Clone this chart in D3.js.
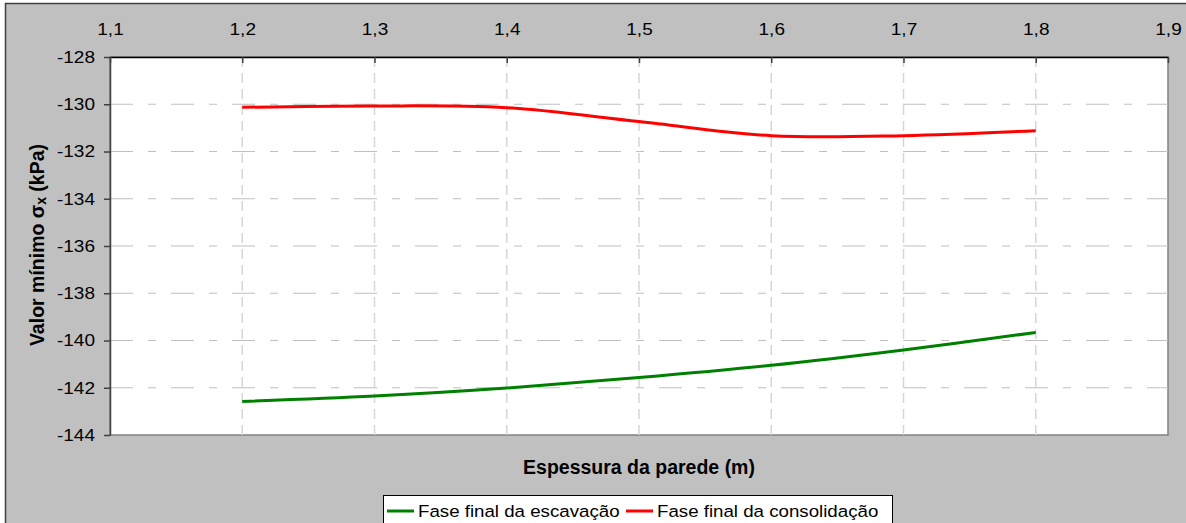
<!DOCTYPE html>
<html><head><meta charset="utf-8">
<script src="https://cdn.jsdelivr.net/npm/d3@7"></script>
<style>body{margin:0;background:#fff}svg{display:block;font-family:"Liberation Sans",Arial,sans-serif}</style>
</head><body><svg id="c" width="1186" height="523"></svg>
<script>
const thickness = [1.2, 1.3, 1.4, 1.5, 1.6, 1.7, 1.8];
const escavacao = [-142.58, -142.35, -142.01, -141.57, -141.05, -140.40, -139.66];
const consolidacao = [-130.13, -130.07, -130.15, -130.73, -131.33, -131.33, -131.12];
const xTicks = [1.1, 1.2, 1.3, 1.4, 1.5, 1.6, 1.7, 1.8, 1.9];
const yTicks = [-128, -130, -132, -134, -136, -138, -140, -142, -144];
const seriesNames = ["Fase final da escavação", "Fase final da consolidação"];
const seriesColors = ["#008000", "#ff0000"];

const svg = d3.select("#c");
const L = 110, R = 1168, T = 57, B = 435;
const x = d3.scaleLinear().domain([1.1, 1.9]).range([L, R]);
const y = d3.scaleLinear().domain([-144, -128]).range([B, T]);
const fmt = v => d3.format(".1f")(v).replace(".", ",");
const FONT = "Liberation Sans, Arial, sans-serif";

// outer frame
svg.append("rect").attr("x", 5.5).attr("y", 3.5).attr("width", 1200).attr("height", 540)
  .attr("fill", "#c0c0c0").attr("stroke", "#404040").attr("stroke-width", 1.5);
// plot area
svg.append("rect").attr("x", L).attr("y", T).attr("width", R - L).attr("height", B - T)
  .attr("fill", "#fff").attr("stroke", "#808080").attr("stroke-width", 1.5);

// grid
const g = svg.append("g");
g.selectAll("line.hg").data(yTicks.filter(v => v > -144 && v < -128)).join("line")
  .attr("x1", L).attr("x2", R).attr("y1", d => y(d)).attr("y2", d => y(d))
  .attr("stroke", "#c0c0c0").attr("stroke-width", 1.2).attr("stroke-dasharray", "23,15,8,15");
g.selectAll("line.vg").data(xTicks.filter(v => v > 1.1 && v < 1.9)).join("line")
  .attr("x1", d => x(d)).attr("x2", d => x(d)).attr("y1", T).attr("y2", B)
  .attr("stroke", "#d6d6d6").attr("stroke-width", 1.5).attr("stroke-dasharray", "10,6");

// axes
const SX = 1.12;
const xAxis = d3.axisTop(x).tickValues(xTicks).tickFormat(fmt).tickSizeInner(-6).tickSizeOuter(0).tickPadding(22);
const gx = svg.append("g").attr("transform", `translate(0,${T})`).call(xAxis);
gx.select(".domain").attr("stroke", "#000").attr("stroke-width", 1.5);
gx.selectAll(".tick line").attr("stroke", "#404040").attr("stroke-width", 1.5);
gx.selectAll("text").attr("font-size", 17).attr("fill", "#000").attr("font-family", FONT)
  .attr("transform", `scale(${SX},1)`);

const yAxis = d3.axisLeft(y).tickValues(yTicks).tickFormat(d => d).tickSizeInner(6).tickSizeOuter(0).tickPadding(9);
const gy = svg.append("g").attr("transform", `translate(${L},0)`).call(yAxis);
gy.select(".domain").attr("stroke", "#404040").attr("stroke-width", 1.5);
gy.selectAll(".tick line").attr("stroke", "#404040").attr("stroke-width", 1.5);
gy.selectAll("text").attr("font-size", 17).attr("fill", "#000").attr("font-family", FONT)
  .attr("transform", `translate(-15,0) scale(${SX},1) translate(15,0)`);

// lines
const line = d3.line().x((d, i) => x(thickness[i])).y(d => y(d)).curve(d3.curveCardinal.tension(0));
[escavacao, consolidacao].forEach((s, k) => {
  svg.append("path").datum(s).attr("d", line).attr("fill", "none")
    .attr("stroke", seriesColors[k]).attr("stroke-width", 3);
});

// axis titles
svg.append("text").attr("x", (L + R) / 2).attr("y", 474).attr("text-anchor", "middle")
  .attr("font-size", 19.5).attr("font-weight", "bold").text("Espessura da parede (m)");
const yt = svg.append("text").attr("transform", "translate(44,245) rotate(-90)")
  .attr("text-anchor", "middle").attr("font-size", 19.5).attr("font-weight", "bold");
yt.append("tspan").text("Valor mínimo σ");
yt.append("tspan").attr("font-size", 14).attr("dy", 2).text("x");
yt.append("tspan").attr("dy", -2).text(" (kPa)");

// legend
const lg = svg.append("g");
lg.append("rect").attr("x", 383.5).attr("y", 495.5).attr("width", 509).attr("height", 40)
  .attr("fill", "#fff").attr("stroke", "#000").attr("stroke-width", 1);
const legX = [387, 626];
seriesNames.forEach((n, k) => {
  lg.append("line").attr("x1", legX[k]).attr("x2", legX[k] + 27).attr("y1", 511).attr("y2", 511)
    .attr("stroke", seriesColors[k]).attr("stroke-width", 3);
  const tx = legX[k] + 31;
  lg.append("text").attr("x", tx).attr("y", 517).attr("font-size", 17)
    .attr("transform", `translate(${tx},0) scale(1.1,1) translate(${-tx},0)`).text(n);
});
</script></body></html>
